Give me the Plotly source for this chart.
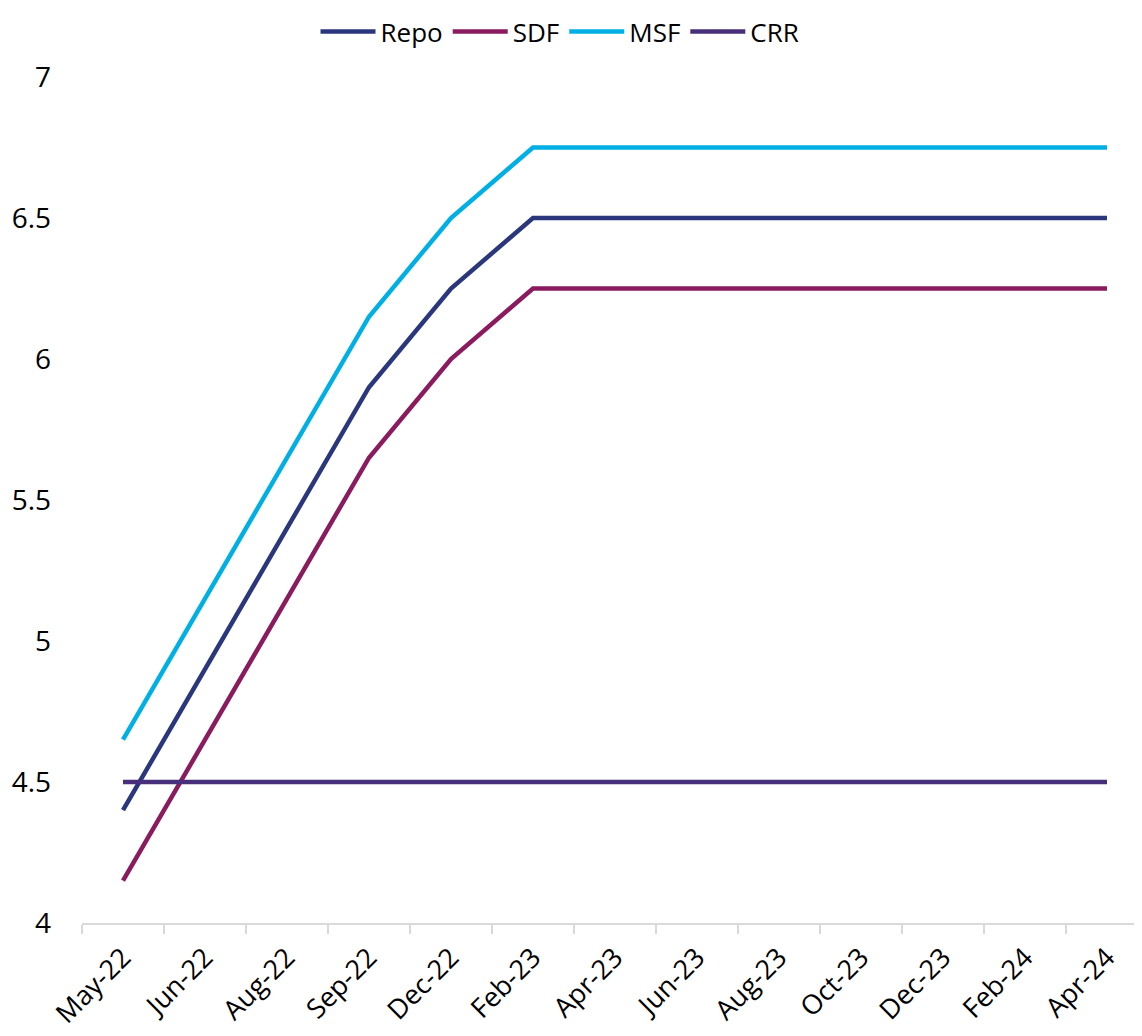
import plotly.graph_objects as go

categories = ["May-22", "Jun-22", "Aug-22", "Sep-22", "Dec-22", "Feb-23", "Apr-23",
              "Jun-23", "Aug-23", "Oct-23", "Dec-23", "Feb-24", "Apr-24"]
repo = [4.40, 4.90, 5.40, 5.90, 6.25, 6.50, 6.50, 6.50, 6.50, 6.50, 6.50, 6.50, 6.50]
sdf = [4.15, 4.65, 5.15, 5.65, 6.00, 6.25, 6.25, 6.25, 6.25, 6.25, 6.25, 6.25, 6.25]
msf = [4.65, 5.15, 5.65, 6.15, 6.50, 6.75, 6.75, 6.75, 6.75, 6.75, 6.75, 6.75, 6.75]
crr = [4.50] * 13
y_ticks = [4, 4.5, 5, 5.5, 6, 6.5, 7]

series = [("Repo", repo, "#2B377C"), ("SDF", sdf, "#8A1B5E"),
          ("MSF", msf, "#00B0E4"), ("CRR", crr, "#472F79")]

FONT = "Open Sans"
fig = go.Figure()
for name, vals, col in series:
    fig.add_trace(go.Scatter(x=categories, y=vals, name=name, mode="lines",
                             line=dict(color=col, width=4.5)))

fig.update_layout(
    width=1134, height=1028,
    margin=dict(l=74, r=0, t=69, b=113, autoexpand=False),
    paper_bgcolor="white", plot_bgcolor="white",
    font=dict(family=FONT, size=28, color="black"),
    legend=dict(orientation="h", xref="container", x=552 / 1134, xanchor="center",
                yref="container", y=1.0, yanchor="top",
                font=dict(size=26), itemwidth=55, tracegroupgap=0),
    showlegend=True,
)
fig.update_xaxes(type="category", categoryorder="array", categoryarray=categories,
                 range=[-0.5, 12.427], tickangle=-45, showgrid=False,
                 showline=True, linecolor="#D9D9D9", linewidth=2,
                 ticks="outside", tickson="boundaries", ticklen=9, tickcolor="#D9D9D9",
                 tickwidth=2, tickfont=dict(size=27), zeroline=False,
                 ticklabelstandoff=6, automargin=False)
fig.update_yaxes(range=[4, 7], tickvals=y_ticks, ticktext=[f"{v:g}" for v in y_ticks],
                 showgrid=False, showline=False, zeroline=False, automargin=False,
                 ticklabelstandoff=30, tickfont=dict(size=28))

fig.write_html("out.html")
